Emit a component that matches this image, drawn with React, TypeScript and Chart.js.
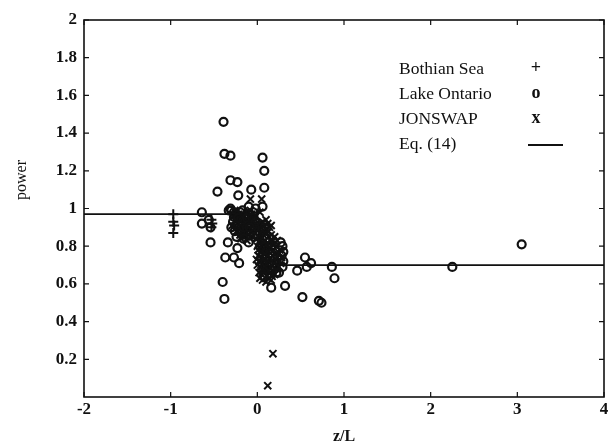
import React, { useEffect, useRef } from "react";
import { Chart, registerables } from "chart.js";

Chart.register(...registerables);

const seriesLabels = ["Bothian Sea", "Lake Ontario", "JONSWAP", "Eq. (14)"];
const legendGlyphs = ["+", "o", "x", ""];

const bothianZ = [-0.97, -0.97, -0.96, -0.97, -0.53, -0.52, -0.53];
const bothianP = [0.97, 0.93, 0.91, 0.87, 0.94, 0.92, 0.9];

const lakeZ = [
  -0.39, -0.38, -0.31, 0.06, 0.08, -0.31, -0.23, -0.46, -0.22, -0.07, 0.08, 0.06, -0.31, -0.02,
  -0.64, -0.64, -0.56, -0.54, -0.3, -0.54, -0.34, -0.23, -0.37, -0.27, -0.21, -0.4, -0.38,
  0.27, 0.29, 0.16, 0.32, 0.46, 0.55, 0.62, 0.57, 0.52, 0.71, 0.74, 0.86, 0.89, 2.25, 3.05,
  -0.3, -0.25, -0.2, -0.15, -0.1, -0.05, -0.28, -0.22, -0.17, -0.12, -0.07, -0.03, -0.26, -0.19,
  -0.13, -0.08, -0.04, -0.24, -0.16, -0.1, -0.33, -0.27, -0.1, 0.3, 0.28, 0.22, 0.07, 0.25,
  -0.27, -0.22, -0.17, -0.12, -0.06, -0.02, -0.21, -0.16, -0.09, -0.25, 0.3, 0.29,
];
const lakeP = [
  1.46, 1.29, 1.28, 1.27, 1.2, 1.15, 1.14, 1.09, 1.07, 1.1, 1.11, 1.01, 1.0, 1.0,
  0.98, 0.92, 0.94, 0.9, 0.9, 0.82, 0.82, 0.79, 0.74, 0.74, 0.71, 0.61, 0.52,
  0.82, 0.69, 0.58, 0.59, 0.67, 0.74, 0.71, 0.69, 0.53, 0.51, 0.5, 0.69, 0.63, 0.69, 0.81,
  0.99, 0.97, 0.98, 0.96, 0.97, 0.98, 0.93, 0.92, 0.93, 0.91, 0.92, 0.9, 0.88, 0.87,
  0.88, 0.86, 0.85, 0.85, 0.84, 0.82, 0.99, 0.955, 1.01, 0.77, 0.75, 0.66, 0.64, 0.66,
  0.98, 0.95, 0.99, 0.95, 0.95, 0.93, 0.89, 0.9, 0.9, 0.91, 0.72, 0.8,
];

const jonswapZ = [
  0.0, 0.02, 0.04, 0.06, 0.08, 0.1, 0.12, 0.14,
  0.01, 0.03, 0.05, 0.07, 0.09, 0.11, 0.13, 0.16, 0.18, 0.2,
  0.0, 0.02, 0.04, 0.06, 0.08, 0.1, 0.12, 0.15, 0.17, 0.19, 0.22, 0.24,
  0.01, 0.03, 0.05, 0.07, 0.09, 0.11, 0.13, 0.15, 0.18, 0.21, 0.25, 0.28,
  0.0, 0.02, 0.04, 0.06, 0.08, 0.1, 0.12, 0.14, 0.17, 0.2, 0.23,
  0.02, 0.05, 0.08, 0.11, 0.14, 0.17, 0.2,
  0.06, 0.1, 0.13,
  0.01, 0.05, 0.09, 0.13, 0.03, 0.07, 0.11, 0.15, 0.19, 0.23,
  0.01, 0.05, 0.09, 0.13, 0.17, 0.21, 0.26, 0.03, 0.07, 0.11, 0.16, 0.19, 0.23, 0.27,
  0.04, 0.09, 0.13, 0.18, 0.22, 0.25, 0.03, 0.16, -0.01, -0.01, 0.16, 0.1,
  0.05, -0.08, 0.03, -0.02,
  -0.27, -0.21, -0.14, -0.09, -0.24, -0.18, -0.11, -0.06, -0.2, -0.14,
  -0.29, -0.04, -0.08, -0.18, -0.13,
  -0.26, -0.22, -0.16, -0.12, -0.07, -0.03, -0.25, -0.19, -0.15, -0.1, -0.05, -0.01,
  -0.23, -0.17, -0.1, -0.06, -0.03, -0.19, -0.12,
  0.18, 0.12,
];
const jonswapP = [
  0.88, 0.92, 0.9, 0.93, 0.91, 0.89, 0.92, 0.9,
  0.85, 0.87, 0.84, 0.86, 0.83, 0.87, 0.85, 0.86, 0.83, 0.85,
  0.8, 0.82, 0.79, 0.81, 0.78, 0.8, 0.82, 0.79, 0.81, 0.78, 0.8, 0.77,
  0.75, 0.77, 0.74, 0.76, 0.73, 0.75, 0.77, 0.74, 0.75, 0.73, 0.72, 0.74,
  0.7, 0.72, 0.69, 0.71, 0.68, 0.7, 0.72, 0.69, 0.7, 0.68, 0.7,
  0.66, 0.65, 0.67, 0.64, 0.66, 0.64, 0.65,
  0.62, 0.61, 0.63,
  0.9, 0.88, 0.87, 0.88, 0.83, 0.82, 0.81, 0.83, 0.81, 0.83,
  0.78, 0.77, 0.76, 0.79, 0.77, 0.76, 0.78, 0.72, 0.73, 0.71, 0.72, 0.71, 0.74, 0.71,
  0.67, 0.69, 0.67, 0.67, 0.68, 0.69, 0.63, 0.62, 0.73, 0.84, 0.91, 0.94,
  1.05, 1.05, 0.98, 0.96,
  0.96, 0.95, 0.94, 0.95, 0.9, 0.9, 0.89, 0.88, 0.86, 0.85,
  0.91, 0.91, 0.99, 0.97, 0.87,
  0.99, 0.97, 0.96, 0.98, 0.97, 0.96, 0.93, 0.93, 0.91, 0.92, 0.93, 0.9,
  0.88, 0.87, 0.86, 0.85, 0.87, 0.84, 0.83,
  0.23, 0.06,
];

const eqZ = [-2, 0, 0.05, 0.15, 0.3, 4];
const eqP = [0.97, 0.97, 0.8, 0.72, 0.7, 0.7];

const xTicks = [-2, -1, 0, 1, 2, 3, 4];
const yTicks = [0.2, 0.4, 0.6, 0.8, 1, 1.2, 1.4, 1.6, 1.8, 2];

const pts = (zs: number[], ps: number[]) => zs.map((z, i) => ({ x: z, y: ps[i] }));

const INK = "#111";
const SERIF = "'Liberation Serif', 'DejaVu Serif', serif";

const framePlugin = {
  id: "frameAndLegend",
  afterDraw(chart: any) {
    const { ctx, chartArea } = chart;
    const xs = chart.scales.x;
    const ys = chart.scales.y;
    ctx.save();
    ctx.strokeStyle = INK;
    ctx.lineWidth = 1.6;
    ctx.strokeRect(chartArea.left, chartArea.top, chartArea.right - chartArea.left, chartArea.bottom - chartArea.top);
    const tl = 5;
    ctx.lineWidth = 1.2;
    ctx.beginPath();
    xTicks.forEach((t) => {
      const px = xs.getPixelForValue(t);
      ctx.moveTo(px, chartArea.bottom);
      ctx.lineTo(px, chartArea.bottom - tl);
      ctx.moveTo(px, chartArea.top);
      ctx.lineTo(px, chartArea.top + tl);
    });
    yTicks.forEach((t) => {
      const py = ys.getPixelForValue(t);
      ctx.moveTo(chartArea.left, py);
      ctx.lineTo(chartArea.left + tl, py);
      ctx.moveTo(chartArea.right, py);
      ctx.lineTo(chartArea.right - tl, py);
    });
    ctx.stroke();

    // y axis title
    ctx.fillStyle = INK;
    ctx.font = `16px ${SERIF}`;
    ctx.textAlign = "center";
    ctx.textBaseline = "middle";
    ctx.translate(22, 180);
    ctx.rotate(-Math.PI / 2);
    ctx.fillText("power", 0, 0);
    ctx.restore();

    // legend
    ctx.save();
    ctx.fillStyle = INK;
    ctx.strokeStyle = INK;
    ctx.textBaseline = "middle";
    const rows = [69, 94, 119, 144];
    seriesLabels.forEach((lab, i) => {
      ctx.font = `17.5px ${SERIF}`;
      ctx.textAlign = "left";
      ctx.fillText(lab, 399, rows[i]);
      if (legendGlyphs[i]) {
        ctx.font = `bold 18px ${SERIF}`;
        ctx.textAlign = "center";
        ctx.fillText(legendGlyphs[i], 536, rows[i] - 1);
      } else {
        ctx.lineWidth = 1.8;
        ctx.beginPath();
        ctx.moveTo(528, rows[i] + 1);
        ctx.lineTo(563, rows[i] + 1);
        ctx.stroke();
      }
    });
    ctx.restore();
  },
};

export default function App() {
  const ref = useRef<HTMLCanvasElement | null>(null);
  useEffect(() => {
    if (!ref.current) return;
    const chart = new Chart(ref.current, {
      type: "scatter",
      data: {
        datasets: [
          {
            label: seriesLabels[0],
            data: pts(bothianZ, bothianP),
            pointStyle: "cross",
            pointRadius: 5,
            borderColor: INK,
            backgroundColor: INK,
            pointBorderWidth: 2,
          },
          {
            label: seriesLabels[1],
            data: pts(lakeZ, lakeP),
            pointStyle: "circle",
            pointRadius: 4,
            borderColor: INK,
            backgroundColor: "rgba(0,0,0,0)",
            pointBorderWidth: 2.2,
          },
          {
            label: seriesLabels[2],
            data: pts(jonswapZ, jonswapP),
            pointStyle: "crossRot",
            pointRadius: 5,
            borderColor: INK,
            backgroundColor: INK,
            pointBorderWidth: 2,
          },
          {
            type: "line" as any,
            label: seriesLabels[3],
            data: pts(eqZ, eqP),
            showLine: true,
            pointRadius: 0,
            borderColor: INK,
            borderWidth: 1.8,
            tension: 0,
            fill: false,
          } as any,
        ],
      },
      options: {
        animation: false,
        responsive: false,
        devicePixelRatio: 1,
        layout: { padding: { top: 20, right: 3, left: 0, bottom: 0 } },
        plugins: { legend: { display: false }, tooltip: { enabled: false } },
        scales: {
          x: {
            type: "linear",
            min: -2,
            max: 4,
            grid: { display: false, drawTicks: false },
            border: { display: false },
            afterFit: (s: any) => {
              s.height = 50;
            },
            afterBuildTicks: (s: any) => {
              s.ticks = xTicks.map((v) => ({ value: v }));
            },
            ticks: {
              color: INK,
              font: { family: SERIF, size: 17, weight: "bold" },
              padding: 2,
              maxRotation: 0,
            },
            title: {
              display: true,
              text: "z/L",
              color: INK,
              font: { family: SERIF, size: 16, weight: "bold" },
              padding: { top: 0, bottom: 1 },
            },
          },
          y: {
            type: "linear",
            min: 0,
            max: 2,
            grid: { display: false, drawTicks: false },
            border: { display: false },
            afterFit: (s: any) => {
              s.width = 84;
            },
            afterBuildTicks: (s: any) => {
              s.ticks = [0, ...yTicks].map((v) => ({ value: v }));
            },
            ticks: {
              color: INK,
              font: { family: SERIF, size: 17, weight: "bold" },
              padding: 7,
              callback: (v: any) => (v === 0 ? "" : String(Math.round(v * 10) / 10)),
            },
          },
        },
      },
      plugins: [framePlugin],
    });
    return () => chart.destroy();
  }, []);
  return (
    <div style={{ position: "fixed", left: 0, top: 0, width: 611, height: 447, background: "#fff" }}>
      <canvas ref={ref} width={611} height={447} style={{ display: "block" }} />
    </div>
  );
}
